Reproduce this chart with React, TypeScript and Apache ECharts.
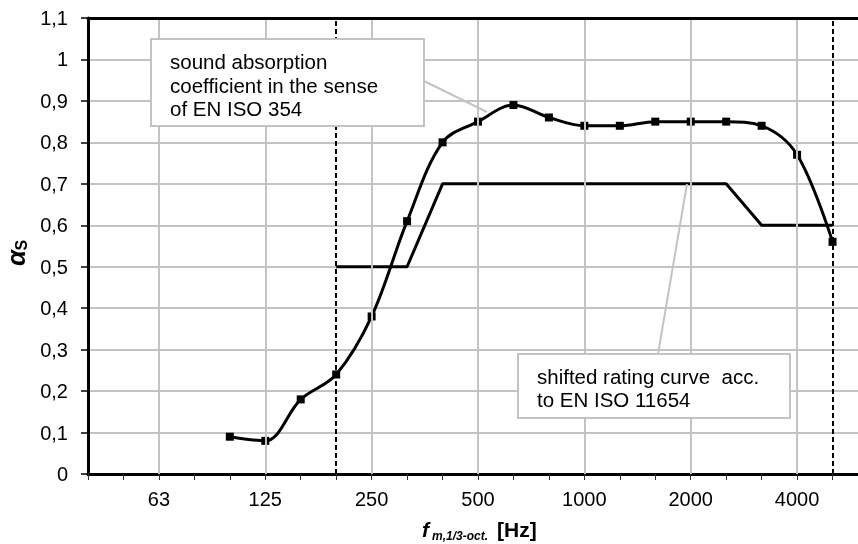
import React, { useEffect, useRef } from 'react';
import * as echarts from 'echarts';

const bands = ['40', '50', '63', '80', '100', '125', '160', '200', '250', '315', '400', '500', '630', '800', '1000', '1250', '1600', '2000', '2500', '3150', '4000', '5000', '6300'];
const absorption = [null, null, null, null, 0.09, 0.08, 0.18, 0.24, 0.38, 0.61, 0.80, 0.85, 0.89, 0.86, 0.84, 0.84, 0.85, 0.85, 0.85, 0.84, 0.77, 0.56, null];
const rating = [null, null, null, null, null, null, null, 0.5, 0.5, 0.5, 0.7, 0.7, 0.7, 0.7, 0.7, 0.7, 0.7, 0.7, 0.7, 0.6, 0.6, 0.6, null];
const labelledBands = ['63', '125', '250', '500', '1000', '2000', '4000'];
const limitBands = ['200', '5000'];
const yMin = 0;
const yMax = 1.1;
const yStep = 0.1;
const note1 = ['sound absorption', 'coefficient in the sense', 'of EN ISO 354'];
const note2 = ['shifted rating curve  acc.', 'to EN ISO 11654'];

const FONT = '"Liberation Sans", Arial, Helvetica, sans-serif';
const GRID = '#c3c3c3';

export default function App() {
  const ref = useRef<HTMLDivElement>(null);
  useEffect(() => {
    if (!ref.current) return;
    const chart = echarts.init(ref.current, null, { renderer: 'svg' });
    const isLabelled = (i: number) => labelledBands.includes(bands[i]);
    const txt = (text: string, x: number, y: number, size: number, extra: any = {}) => ({
      type: 'text',
      z: 100,
      style: {
        text,
        x,
        y,
        fill: '#000',
        fontSize: size,
        fontFamily: FONT,
        textAlign: 'left',
        textVerticalAlign: 'middle',
        verticalAlign: 'middle',
        ...extra,
      },
    });
    const option: any = {
      animation: false,
      grid: { left: 88, top: 18, width: 780, height: 456 },
      xAxis: [
        {
          type: 'category',
          data: bands,
          boundaryGap: false,
          axisLine: { onZero: false, lineStyle: { color: '#000', width: 3 } },
          axisTick: { show: true, interval: 0, length: 6, lineStyle: { color: '#333', width: 1 } },
          axisLabel: {
            interval: (i: number) => isLabelled(i),
            margin: 15,
            fontSize: 20,
            color: '#000',
            fontFamily: FONT,
          },
          splitLine: { show: false },
        },
        {
          type: 'category',
          data: bands,
          boundaryGap: false,
          position: 'top',
          z: 5,
          axisLine: { onZero: false, lineStyle: { color: '#000', width: 3 } },
          axisTick: { show: false },
          axisLabel: { show: false },
          splitLine: { show: true, interval: (i: number) => isLabelled(i), lineStyle: { color: GRID, width: 2 } },
        },
      ],
      yAxis: {
        type: 'value',
        min: yMin,
        max: yMax,
        interval: yStep,
        axisLine: { show: true, onZero: false, lineStyle: { color: '#000', width: 3 } },
        axisTick: { show: true, length: 7, lineStyle: { color: '#000', width: 1.5 } },
        axisLabel: {
          margin: 20,
          fontSize: 20,
          color: '#000',
          fontFamily: FONT,
          formatter: (v: number) => String(Math.round(v * 10) / 10).replace('.', ','),
        },
        splitLine: { show: true, lineStyle: { color: GRID, width: 2 } },
      },
      series: [
        {
          type: 'line',
          name: 'rating',
          data: rating,
          symbol: 'none',
          lineStyle: { color: '#000', width: 3 },
          z: 2,
        },
        {
          type: 'line',
          name: 'absorption',
          data: absorption,
          smooth: 0.35,
          symbol: 'rect',
          symbolSize: 8,
          showAllSymbol: true,
          lineStyle: { color: '#000', width: 3 },
          itemStyle: { color: '#000' },
          z: 3,
          markLine: {
            silent: true,
            symbol: ['none', 'none'],
            label: { show: false },
            lineStyle: { color: '#000', type: [5, 3], width: 2 },
            data: limitBands.map((b) => ({ xAxis: b })),
          },
        },
      ],
      graphic: [
        { type: 'line', z: 99, shape: { x1: 424, y1: 81, x2: 487, y2: 112 }, style: { stroke: GRID, lineWidth: 2 } },
        { type: 'line', z: 99, shape: { x1: 658, y1: 354, x2: 687, y2: 184 }, style: { stroke: GRID, lineWidth: 2 } },
        { type: 'rect', z: 99, shape: { x: 151, y: 39, width: 273, height: 87 }, style: { fill: '#fff', stroke: GRID, lineWidth: 2 } },
        { type: 'rect', z: 99, shape: { x: 518, y: 354, width: 272, height: 64 }, style: { fill: '#fff', stroke: GRID, lineWidth: 2 } },
        ...note1.map((t, i) => txt(t, 170, 61.6 + i * 23.5, 20.5)),
        ...note2.map((t, i) => txt(t, 537, 376.4 + i * 23.4, 20.5)),
        txt('f', 422, 529.2, 21, { fontWeight: 'bold', fontStyle: 'italic' }),
        txt('m,1/3-oct.', 432, 535.7, 12, { fontWeight: 'bold', fontStyle: 'italic' }),
        txt('[Hz]', 497, 529.2, 21, { fontWeight: 'bold' }),
        {
          type: 'group',
          x: 25,
          y: 266,
          rotation: Math.PI / 2,
          children: [
            txt('α', 0, -9, 26, { fontWeight: 'bold', fontStyle: 'italic' }),
            txt('S', 15.5, -3.5, 16, { fontWeight: 'bold' }),
          ],
        },
      ],
    };
    chart.setOption(option);
    return () => chart.dispose();
  }, []);
  return <div ref={ref} style={{ position: 'fixed', left: 0, top: 0, width: 868, height: 544 }} />;
}
